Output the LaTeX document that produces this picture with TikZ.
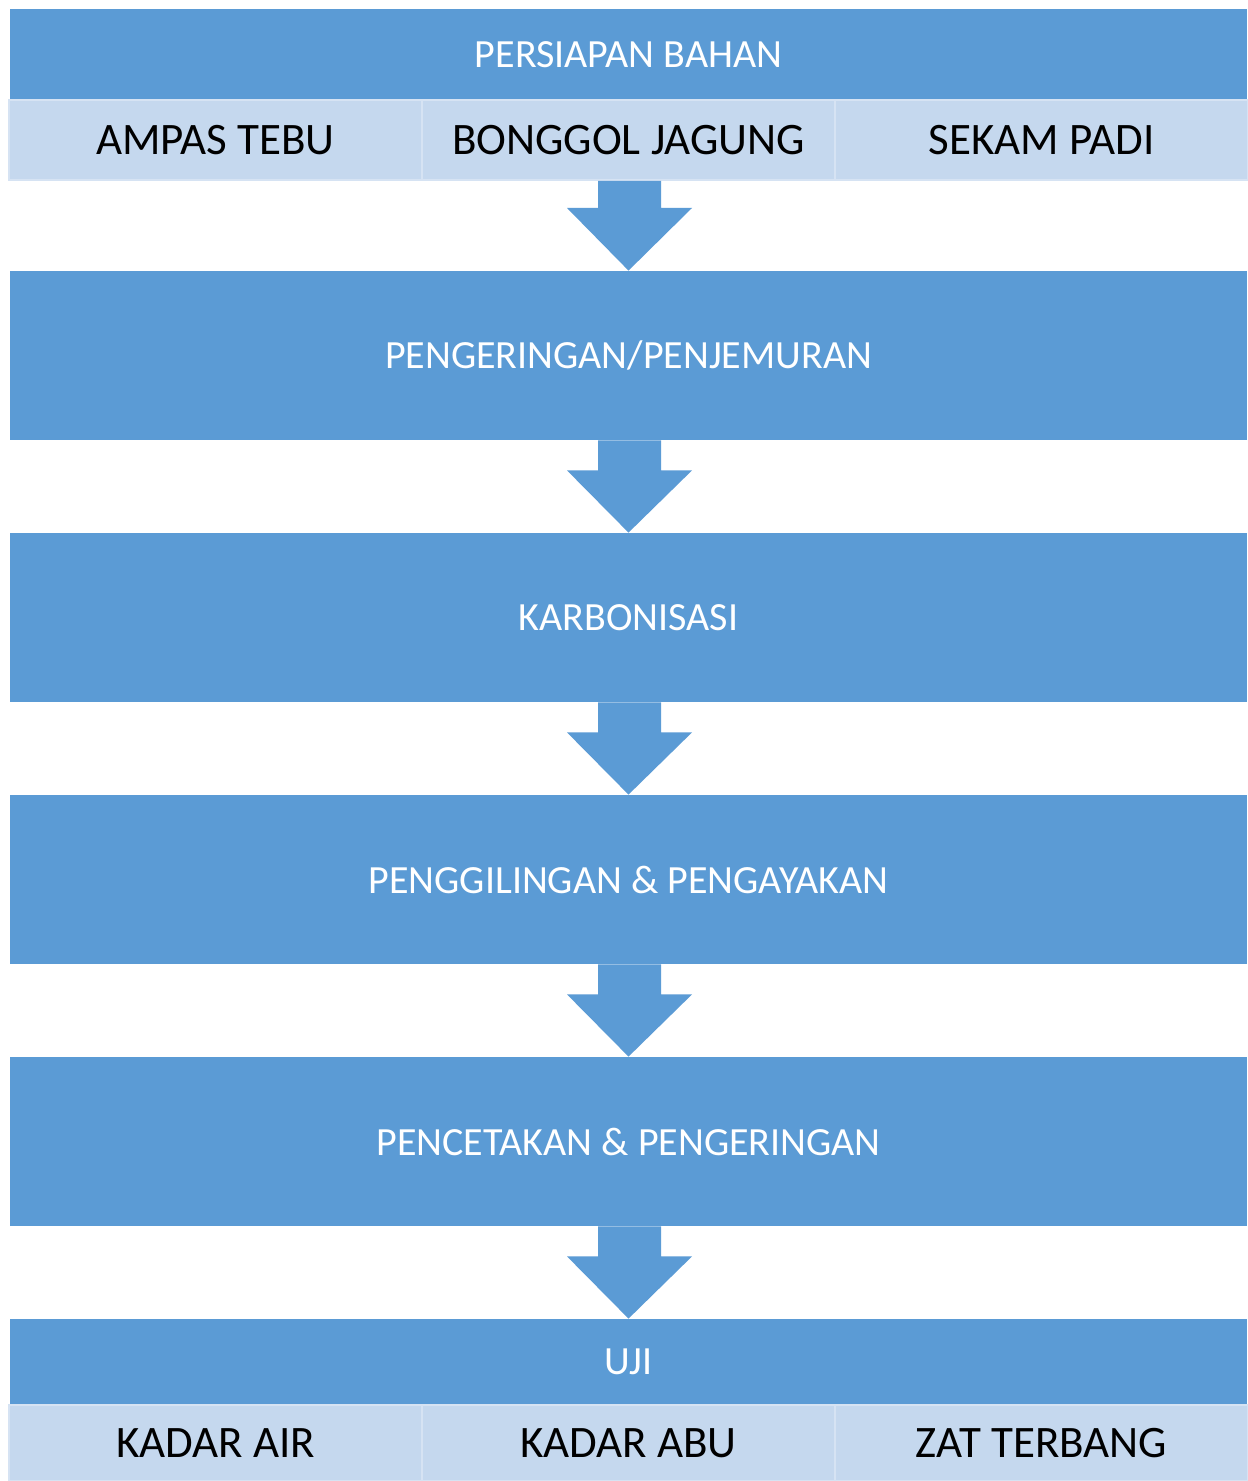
\documentclass[tikz,border=0pt]{standalone}
\usepackage{fontspec}
\setmainfont{Carlito}
\usetikzlibrary{calc}
\definecolor{darkblue}{HTML}{5B9BD5}
\definecolor{lightblue}{HTML}{C5D8EE}
\definecolor{lineblue}{HTML}{D6E3F3}
\tikzset{
  stage/.style={fill=darkblue, inner sep=0pt, text=white, font=\fontsize{20}{24}\selectfont, minimum width=618.5pt},
  item/.style={fill=lightblue, draw=lineblue, line width=1pt, inner sep=0pt, text=black, font=\fontsize{22.5}{27}\selectfont, minimum width=206.5pt, minimum height=40pt},
  flowarrow/.style={fill=darkblue}
}
\newcommand{\blockarrow}[3]{%
  \fill[flowarrow] ($(#1)+(-31.5,0)$) -- ($(#1)+(31.5,0)$) -- ($(#1)+(31.5,#3)$) -- ($(#1)+(62.5,#3)$) -- (#2.north) -- ($(#1)+(-62.5,#3)$) -- ($(#1)+(-31.5,#3)$) -- cycle;}
\begin{document}
\begin{tikzpicture}[x=0.5pt,y=-0.5pt]
\useasboundingbox[fill=white] (0,0) rectangle (1247,1481);
% top section
\node[stage, minimum height=45.5pt] (prep) at (628.5,54.5) {PERSIAPAN BAHAN};
\node[item] (m1) at (215.5,140) {AMPAS TEBU};
\node[item] (m2) at (628.5,140) {BONGGOL JAGUNG};
\node[item] (m3) at (1041.5,140) {SEKAM PADI};
% stages
\node[stage, minimum height=84.5pt] (dry) at (628.5,355.5) {PENGERINGAN/PENJEMURAN};
\node[stage, minimum height=84.5pt] (karb) at (628.5,617.5) {KARBONISASI};
\node[stage, minimum height=84.5pt] (mill) at (628.5,879.5) {PENGGILINGAN \& PENGAYAKAN};
\node[stage, minimum height=84.5pt] (mold) at (628.5,1141.5) {PENCETAKAN \& PENGERINGAN};
% test section
\node[stage, minimum height=43pt] (uji) at (628.5,1362) {UJI};
\node[item, minimum height=38pt] (t1) at (215.5,1443) {KADAR AIR};
\node[item, minimum height=38pt] (t2) at (628.5,1443) {KADAR ABU};
\node[item, minimum height=38pt] (t3) at (1041.5,1443) {ZAT TERBANG};
% arrows
\coordinate (a1) at ($(m2.south)+(1,0)$);
\coordinate (a2) at ($(dry.south)+(1,0)$);
\coordinate (a3) at ($(karb.south)+(1,0)$);
\coordinate (a4) at ($(mill.south)+(1,0)$);
\coordinate (a5) at ($(mold.south)+(1,0)$);
\blockarrow{a1}{dry}{27}
\blockarrow{a2}{karb}{30}
\blockarrow{a3}{mill}{30}
\blockarrow{a4}{mold}{30}
\blockarrow{a5}{uji}{30}
\end{tikzpicture}
\end{document}
